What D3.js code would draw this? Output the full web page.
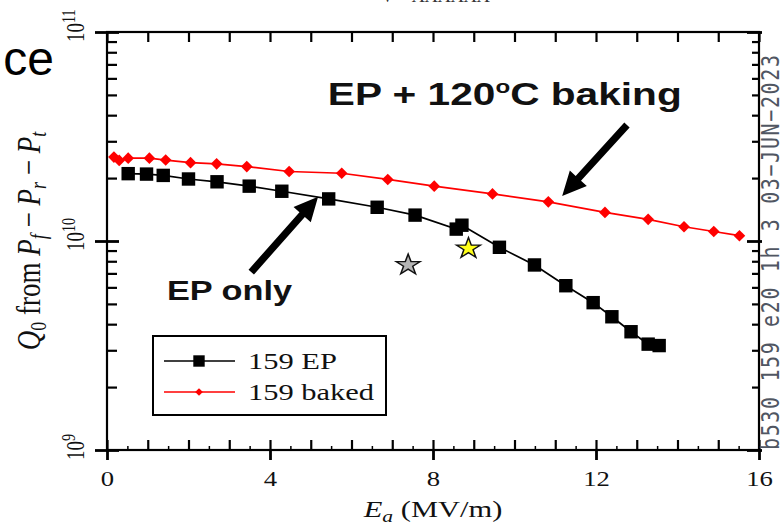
<!DOCTYPE html>
<html>
<head>
<meta charset="utf-8">
<script src="https://cdn.jsdelivr.net/npm/d3@7"></script>
<style>
  body { margin: 0; background: #fff; }
  svg { display: block; }
</style>
</head>
<body>
<div id="root"></div>
<script>
// values: E_a (MV/m) and Q0
const epE = [0.52, 0.97, 1.38, 2.0, 2.70, 3.49, 4.29, 5.44, 6.63, 7.56, 8.57, 8.71, 9.63, 10.49, 11.26, 11.93, 12.39, 12.86, 13.28, 13.55];
const epQ = [2.10e10, 2.09e10, 2.06e10, 1.98e10, 1.92e10, 1.83e10, 1.73e10, 1.59e10, 1.45e10, 1.33e10, 1.14e10, 1.19e10, 9.33e9, 7.68e9, 6.11e9, 5.07e9, 4.34e9, 3.68e9, 3.21e9, 3.16e9];

const bakedE = [0.17, 0.30, 0.52, 1.04, 1.44, 2.05, 2.69, 3.43, 4.47, 5.76, 6.89, 8.03, 9.46, 10.83, 12.22, 13.28, 14.16, 14.89, 15.52];
const bakedQ = [2.52e10, 2.43e10, 2.49e10, 2.49e10, 2.44e10, 2.37e10, 2.34e10, 2.27e10, 2.15e10, 2.11e10, 1.97e10, 1.83e10, 1.68e10, 1.54e10, 1.37e10, 1.27e10, 1.17e10, 1.11e10, 1.06e10];

const starE = [7.39, 8.87];
const starQ = [7.68e9, 9.21e9];
const starColors = ['#b4b4b4', '#ffff1a'];

const xTicks = [0, 4, 8, 12, 16];
const yTicks = [1e9, 1e10, 1e11];
const yTickExp = ['9', '10', '11'];
const seriesNames = ['159 EP', '159 baked'];

const w = 781, h = 526;
const pLeft = 107, pRight = 759, pTop = 32, pBottom = 450;
const sx = 1.27; // the original figure is stretched sideways

const svg = d3.select('#root').append('svg')
    .attr('width', w)
    .attr('height', h);

const x = d3.scaleLinear().domain([0, 16]).range([pLeft, pRight]);
const y = d3.scaleLog().domain([1e9, 1e11]).range([pBottom, pTop]);

const serif = '"Liberation Serif", "Times New Roman", serif';
const sans = '"Liberation Sans", Arial, sans-serif';

// minor tick positions
const xInt = d3.range(0, 17);
const xHalf = d3.range(0.5, 16, 1);
const yMinor = [];
[1e9, 1e10].forEach(d => { for (let k = 2; k < 10; k++) yMinor.push(k * d); });

function ticks(axis, tx, ty, size, vals) {
    const g = svg.append('g')
        .attr('transform', `translate(${tx},${ty})`)
        .call(axis.tickValues(vals).tickSize(size).tickFormat(''));
    g.select('.domain').remove();
    g.selectAll('line').attr('stroke', '#000').attr('stroke-width', 2.2);
    return g;
}

// bottom axis with labels
const xAxisG = svg.append('g')
    .attr('transform', `translate(0,${pBottom})`)
    .call(d3.axisBottom(x).tickValues(xTicks).tickSize(10).tickPadding(11).tickFormat(d3.format('d')));
xAxisG.select('.domain').remove();
xAxisG.selectAll('line').attr('stroke', '#000').attr('stroke-width', 2.8);
xAxisG.selectAll('text')
    .attr('font-family', serif)
    .attr('font-size', 21)
    .attr('fill', '#111')
    .attr('transform', `scale(${sx},1)`);

ticks(d3.axisTop(x), 0, pBottom, 10, xInt);
ticks(d3.axisTop(x), 0, pBottom, 4, xHalf).selectAll('line').attr('stroke-width', 1.5);
ticks(d3.axisBottom(x), 0, pTop, 10, xInt);

// left axis
ticks(d3.axisLeft(y), pLeft, 0, 12, yTicks).selectAll('line').attr('stroke-width', 2.8);
ticks(d3.axisRight(y), pLeft, 0, 12, yTicks).selectAll('line').attr('stroke-width', 2.8);
ticks(d3.axisRight(y), pLeft, 0, 10, yMinor);

// right axis
ticks(d3.axisLeft(y), pRight, 0, 12, yTicks).selectAll('line').attr('stroke-width', 2.8);
ticks(d3.axisRight(y), pRight, 0, 3, yTicks).selectAll('line').attr('stroke-width', 2.8);
ticks(d3.axisLeft(y), pRight, 0, 7, yMinor);

// frame
svg.append('rect')
    .attr('x', pLeft).attr('y', pTop)
    .attr('width', pRight - pLeft).attr('height', pBottom - pTop)
    .attr('fill', 'none').attr('stroke', '#000').attr('stroke-width', 2.2);

// rotated y tick labels 10^n
yTicks.forEach((v, i) => {
    const t = svg.append('text')
        .attr('transform', `translate(84,${y(v) + 10}) scale(${sx},1) rotate(-90)`)
        .attr('font-family', serif)
        .attr('font-size', 19)
        .attr('fill', '#111');
    t.append('tspan').text('10');
    t.append('tspan').attr('dy', -7).attr('font-size', 14).text(yTickExp[i]);
});

// y axis title
const yt = svg.append('text')
    .attr('transform', `translate(40,${(pTop + pBottom) / 2}) scale(${sx},1) rotate(-90)`)
    .attr('text-anchor', 'middle')
    .attr('font-family', serif)
    .attr('font-size', 27)
    .attr('fill', '#111');
yt.append('tspan').attr('font-style', 'italic').text('Q');
yt.append('tspan').attr('font-size', 18).attr('dy', 5).text('0');
yt.append('tspan').attr('dy', -5).text(' from ');
yt.append('tspan').attr('font-style', 'italic').text('P');
yt.append('tspan').attr('font-style', 'italic').attr('font-size', 18).attr('dy', 5).text('f');
yt.append('tspan').attr('dy', -5).text(' \u2212 ');
yt.append('tspan').attr('font-style', 'italic').text('P');
yt.append('tspan').attr('font-style', 'italic').attr('font-size', 18).attr('dy', 5).text('r');
yt.append('tspan').attr('dy', -5).text(' \u2212 ');
yt.append('tspan').attr('font-style', 'italic').text('P');
yt.append('tspan').attr('font-style', 'italic').attr('font-size', 18).attr('dy', 5).text('t');

// x axis title
const xt = svg.append('text')
    .attr('transform', `translate(${x(8)},517) scale(${sx},1)`)
    .attr('text-anchor', 'middle')
    .attr('font-family', serif)
    .attr('font-size', 24)
    .attr('fill', '#111');
xt.append('tspan').attr('font-style', 'italic').text('E');
xt.append('tspan').attr('font-style', 'italic').attr('font-size', 17).attr('dy', 5).text('a');
xt.append('tspan').attr('dy', -5).text(' (MV/m)');

// series
const ep = epE.map((e, i) => [e, epQ[i]]);
const baked = bakedE.map((e, i) => [e, bakedQ[i]]);
const line = d3.line().x(d => x(d[0])).y(d => y(d[1]));

svg.append('path').datum(ep)
    .attr('d', line).attr('fill', 'none').attr('stroke', '#000').attr('stroke-width', 1.7);
svg.append('path').datum(baked)
    .attr('d', line).attr('fill', 'none').attr('stroke', '#ff0000').attr('stroke-width', 1.7);

const square = d3.symbol(d3.symbolSquare, 180);
const diamond = d3.symbol(d3.symbolSquare, 68);

svg.selectAll('.ep').data(ep).enter().append('path')
    .attr('class', 'ep')
    .attr('d', square)
    .attr('transform', d => `translate(${x(d[0])},${y(d[1])})`)
    .attr('fill', '#000');

svg.selectAll('.baked').data(baked).enter().append('path')
    .attr('class', 'baked')
    .attr('d', diamond)
    .attr('transform', d => `translate(${x(d[0])},${y(d[1])}) rotate(45)`)
    .attr('fill', '#ff0000');

svg.selectAll('.star').data(starE).enter().append('path')
    .attr('class', 'star')
    .attr('d', d3.symbol(d3.symbolStar, 135))
    .attr('transform', (d, i) => `translate(${x(d)},${y(starQ[i])}) scale(1.15,1)`)
    .attr('fill', (d, i) => starColors[i])
    .attr('stroke', '#111')
    .attr('stroke-width', 1.3);

// legend
const lg = svg.append('g');
lg.append('rect')
    .attr('x', 153).attr('y', 336).attr('width', 233).attr('height', 79)
    .attr('fill', '#fff').attr('stroke', '#000').attr('stroke-width', 2);
const legendMarks = [
    { color: '#000', sym: d3.symbol(d3.symbolSquare, 130), rot: 0 },
    { color: '#ff0000', sym: d3.symbol(d3.symbolSquare, 30), rot: 45 }
];
legendMarks.forEach((s, i) => {
    const yy = 361 + i * 31;
    lg.append('line').attr('x1', 164).attr('x2', 235).attr('y1', yy).attr('y2', yy)
        .attr('stroke', s.color).attr('stroke-width', 1.6);
    lg.append('path').attr('d', s.sym)
        .attr('transform', `translate(199,${yy}) rotate(${s.rot})`)
        .attr('fill', s.color);
    lg.append('text')
        .attr('transform', `translate(248,${yy + 8}) scale(${sx},1)`)
        .attr('font-family', serif)
        .attr('font-size', 24)
        .attr('fill', '#111')
        .text(seriesNames[i]);
});

// annotations with arrows (positions in data units)
function arrow(e0, q0, e1, q1) {
    const x0 = x(e0), y0 = y(q0), x1 = x(e1), y1 = y(q1);
    const len = Math.hypot(x1 - x0, y1 - y0);
    const ux = (x1 - x0) / len, uy = (y1 - y0) / len;
    const nx = -uy, ny = ux;
    const sw = 3.6, hw = 11.5, hl = 24;
    const bx = x1 - ux * hl, by = y1 - uy * hl;
    const pts = [
        [x0 + nx * sw, y0 + ny * sw], [bx + nx * sw, by + ny * sw], [bx + nx * hw, by + ny * hw],
        [x1, y1],
        [bx - nx * hw, by - ny * hw], [bx - nx * sw, by - ny * sw], [x0 - nx * sw, y0 - ny * sw]
    ];
    svg.append('path').attr('d', 'M' + pts.join('L') + 'Z').attr('fill', '#000');
}
arrow(3.54, 7.1e9, 5.18, 1.63e10);
arrow(12.76, 3.59e10, 11.17, 1.64e10);

const a1 = svg.append('text')
    .attr('transform', `translate(${x(5.42)},${y(4.57e10) + 2}) scale(${sx},1)`)
    .attr('font-family', sans)
    .attr('font-weight', 'bold')
    .attr('font-size', 32)
    .attr('fill', '#111');
a1.append('tspan').text('EP + 120');
a1.append('tspan').attr('font-size', 19).attr('dy', -12).text('o');
a1.append('tspan').attr('dy', 12).text('C baking');

svg.append('text')
    .attr('transform', `translate(${x(1.47)},${y(5.22e9)}) scale(${sx},1)`)
    .attr('font-family', sans)
    .attr('font-weight', 'bold')
    .attr('font-size', 27)
    .attr('fill', '#111')
    .text('EP only');

// run stamp on the right edge
svg.append('text')
    .attr('transform', `translate(779,${pBottom}) scale(1.2,1) rotate(-90)`)
    .attr('font-family', '"DejaVu Sans Mono", monospace')
    .attr('font-size', 20)
    .attr('fill', '#505662')
    .attr('textLength', 395)
    .attr('lengthAdjust', 'spacing')
    .text('b530 159 e20 1h 3 03\u2212JUN\u22122023');

// cropped slide text
svg.append('text')
    .attr('x', 54).attr('y', 75)
    .attr('text-anchor', 'end')
    .attr('font-family', sans)
    .attr('font-size', 48)
    .attr('fill', '#000')
    .text('ce');

svg.append('text')
    .attr('x', 381).attr('y', 2)
    .attr('font-family', serif)
    .attr('font-size', 18)
    .attr('fill', '#333')
    .text('V \u2212 AAAAAA');
</script>
</body>
</html>
